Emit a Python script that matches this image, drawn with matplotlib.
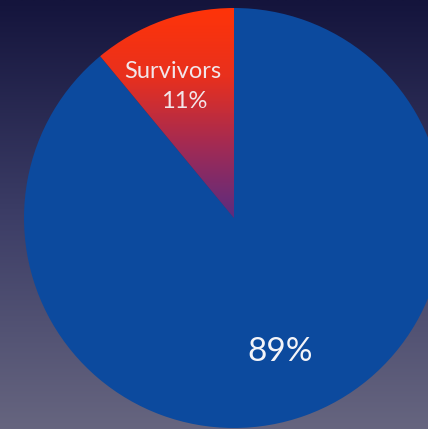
import matplotlib
matplotlib.use('Agg')
import matplotlib.pyplot as plt
import numpy as np
from matplotlib.colors import LinearSegmentedColormap

# share of each group, in percent
labels = ['Survivors', '']
values = [11, 89]

W, H = 428, 429
fig = plt.figure(figsize=(W / 100, H / 100), dpi=100)

# background: dark navy at top fading to a greyish blue-purple
bg = fig.add_axes([0, 0, 1, 1])
bg_cmap = LinearSegmentedColormap.from_list('bg', ['#66657f', '#3c3d66', '#14143c'])
grad = np.linspace(0, 1, 256).reshape(-1, 1)
bg.imshow(grad, aspect='auto', cmap=bg_cmap, origin='lower', extent=[0, 1, 0, 1])
bg.set_axis_off()

# pie axes: centre at (234, 218) px from top-left, radius 210 px
cx, cy, r = 234, 218, 210
ax = fig.add_axes([(cx - r) / W, (H - cy - r) / H, 2 * r / W, 2 * r / H])

wedges, _ = ax.pie(values, colors=['none', '#0c4a9e'], startangle=90, counterclock=True,
                   radius=1, wedgeprops=dict(linewidth=0))
ax.set_axis_off()

# red wedge gets a vertical red -> purple fill
red_cmap = LinearSegmentedColormap.from_list('red', ['#5a2c80', '#a02a55', '#e8301e', '#ff3408'])
img = ax.imshow(np.linspace(0, 1, 256).reshape(-1, 1), cmap=red_cmap, origin='lower',
                extent=[-1, 0, 0, 1], aspect='auto', zorder=3)
img.set_clip_path(wedges[0])
ax.set_xlim(-1, 1)
ax.set_ylim(-1, 1)

txt = dict(family='Lato', ha='center', va='center', zorder=4)
ax.text(-0.29, 0.70, labels[0], color='#f2e6ea', fontsize=17, **txt)
ax.text(-0.235, 0.555, f'{values[0]}%', color='#f2e6ea', fontsize=17, **txt)
ax.text(0.22, -0.64, f'{values[1]}%', color='#f4f4f8', fontsize=24, **txt)

fig.savefig('out.png', dpi=100)
